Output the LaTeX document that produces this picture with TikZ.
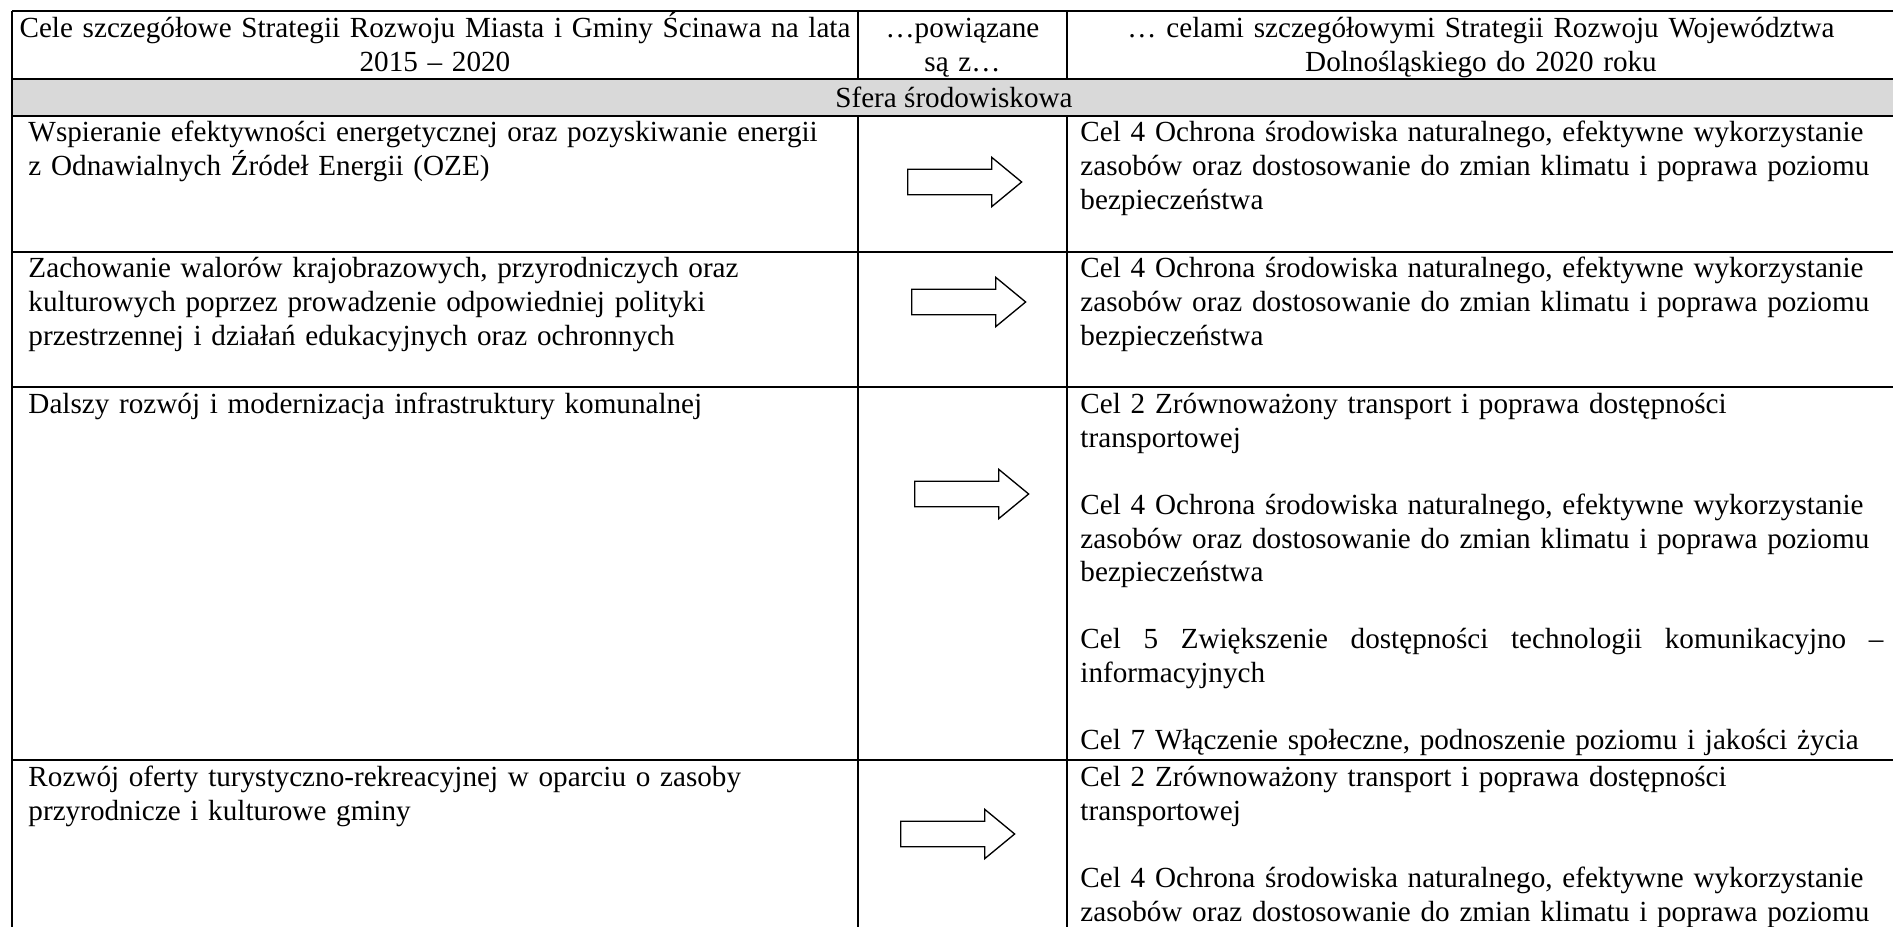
\documentclass[tikz,border=0pt]{standalone}
\usepackage{fontspec}
\setmainfont{Liberation Serif}
\usetikzlibrary{shapes.arrows}
\definecolor{bandgray}{RGB}{217,217,217}
\tikzset{
  rule/.style={line width=0.95pt},
  head/.style={anchor=base,inner sep=0pt,align=center},
  aimcell/.style={anchor=base west,inner sep=0pt,align=left,text width=336pt},
  goalcell/.style={anchor=base west,inner sep=0pt,align=left,text width=330.4pt},
  linkarrow/.style={shape=single arrow,draw,fill=white,line width=0.55pt,inner sep=0pt,
    text height=9.9pt,text depth=0pt,minimum height=46.9pt,
    single arrow head extend=4.94pt,single arrow head indent=0pt,
    single arrow tip angle=79,anchor=tail}
}
\begin{document}
\begin{tikzpicture}[x=0.4115pt,y=-0.4115pt,font=\fontsize{12pt}{13.8pt}\selectfont]
\useasboundingbox (0,0) rectangle (1893,927);
\clip (0,0) rectangle (1893,927);
\fill[bandgray] (12,79) rectangle (1896,116);
\foreach \y in {11,79,116,252,387,760}
  \draw[rule] (12,\y) -- (1896,\y);
\draw[rule] (12,11) -- (12,940);
\foreach \x in {858,1067}{
  \draw[rule] (\x,11) -- (\x,79);
  \draw[rule] (\x,116) -- (\x,940);
}
\node(hdaim)[head,text width=348pt] at (435,38){Cele szczegółowe Strategii Rozwoju Miasta i Gminy Ścinawa na lata\\2015 – 2020};
\node(hdlink)[head,text width=80pt] at (962.5,38){…powiązane\\są z…};
\node(hdgoal)[head,text width=341pt] at (1481,38){… celami szczegółowymi Strategii Rozwoju Województwa\\Dolnośląskiego do 2020 roku};
\node(band)[head] at (954,108){Sfera środowiskowa};
\node(aim1)[aimcell] at (28,142){Wspieranie efektywności energetycznej oraz pozyskiwanie energii\\z Odnawialnych Źródeł Energii (OZE)};
\node(goal1)[goalcell] at (1080,142){Cel 4 Ochrona środowiska naturalnego, efektywne wykorzystanie\\zasobów oraz dostosowanie do zmian klimatu i poprawa poziomu\\bezpieczeństwa};
\node(link1)[linkarrow] at (907,182){};
\node(aim2)[aimcell] at (28,278){Zachowanie walorów krajobrazowych, przyrodniczych oraz\\kulturowych poprzez prowadzenie odpowiedniej polityki\\przestrzennej i działań edukacyjnych oraz ochronnych};
\node(goal2)[goalcell] at (1080,278){Cel 4 Ochrona środowiska naturalnego, efektywne wykorzystanie\\zasobów oraz dostosowanie do zmian klimatu i poprawa poziomu\\bezpieczeństwa};
\node(link2)[linkarrow] at (911,302){};
\node(aim3)[aimcell] at (28,414){Dalszy rozwój i modernizacja infrastruktury komunalnej};
\node(goal3)[goalcell] at (1080,414){Cel 2 Zrównoważony transport i poprawa dostępności\\transportowej\\[13.8pt]Cel 4 Ochrona środowiska naturalnego, efektywne wykorzystanie\\zasobów oraz dostosowanie do zmian klimatu i poprawa poziomu\\bezpieczeństwa\\[13.8pt]\leavevmode\hbox to 330.4pt{Cel\hfill 5\hfill Zwiększenie\hfill dostępności\hfill technologii\hfill komunikacyjno\hfill –}\\informacyjnych\\[13.8pt]Cel 7 Włączenie społeczne, podnoszenie poziomu i jakości życia};
\node(link3)[linkarrow] at (914,494){};
\node(aim4)[aimcell] at (28,787){Rozwój oferty turystyczno-rekreacyjnej w oparciu o zasoby\\przyrodnicze i kulturowe gminy};
\node(goal4)[goalcell] at (1080,787){Cel 2 Zrównoważony transport i poprawa dostępności\\transportowej\\[13.8pt]Cel 4 Ochrona środowiska naturalnego, efektywne wykorzystanie\\zasobów oraz dostosowanie do zmian klimatu i poprawa poziomu};
\node(link4)[linkarrow] at (900,834){};
\end{tikzpicture}
\end{document}
